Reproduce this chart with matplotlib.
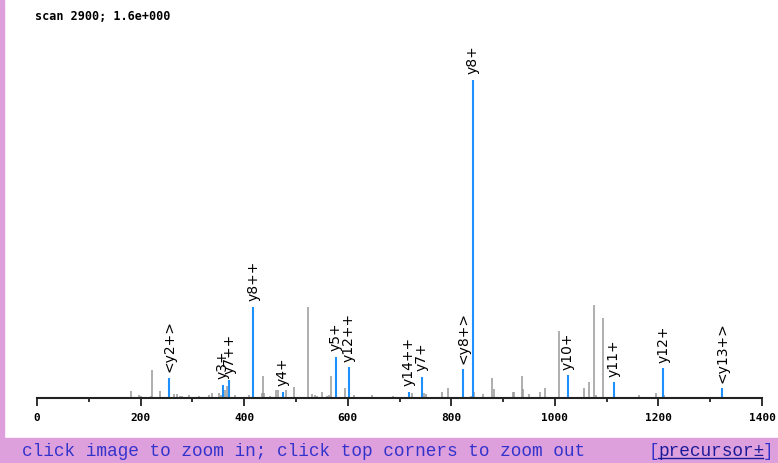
import matplotlib
matplotlib.use("Agg")
import matplotlib.pyplot as plt
from matplotlib.patches import Rectangle

# annotated (matched) peaks: m/z, relative intensity (%), label
ion_mz = [255, 359, 371, 418, 475, 577, 602, 718, 743, 823, 842, 1025, 1114, 1209, 1323]
ion_int = [6.3, 4.1, 5.7, 28.6, 1.9, 12.9, 9.7, 1.9, 6.6, 9.1, 100.0, 7.2, 5.0, 9.4, 3.1]
ion_lab = ["<y2+>", "y3+", "y7++", "y8++", "y4+", "y5+", "y12++", "y14++", "y7+",
           "<y8+>", "y8+", "y10+", "y11+", "y12+", "<y13+>"]

# unmatched peaks
other_mz = [181, 196, 201, 220, 222, 237, 264, 270, 276, 280, 294, 312, 333, 338, 351,
            355, 363, 367, 382, 410, 434, 436, 439, 450, 461, 466, 480, 496, 523, 531,
            536, 540, 550, 560, 564, 567, 595, 612, 647, 687, 724, 747, 752, 782, 793,
            839, 844, 861, 879, 882, 919, 921, 936, 938, 950, 971, 981, 1008, 1056,
            1066, 1075, 1079, 1093, 1162, 1195, 1211]
other_int = [2.2, 0.9, 0.6, 0.6, 8.8, 2.2, 1.3, 1.3, 0.6, 0.6, 0.9, 0.6, 0.9, 1.6, 1.6,
             0.9, 2.5, 3.8, 0.9, 0.9, 1.6, 6.9, 1.6, 0.6, 2.5, 2.5, 2.5, 3.5, 28.6, 1.3,
             0.9, 0.6, 1.9, 0.6, 0.9, 6.9, 3.1, 0.9, 0.9, 0.6, 1.6, 1.6, 1.3, 1.9, 3.1,
             0.6, 1.9, 1.3, 6.3, 2.8, 1.9, 1.9, 6.9, 2.8, 1.3, 1.9, 3.1, 21.1, 3.1,
             5.0, 29.2, 0.9, 25.2, 0.9, 1.6, 0.9]

title = "scan 2900; 1.6e+000"

W, H = 778, 463
fig = plt.figure(figsize=(W / 100, H / 100), dpi=100)
fig.patch.set_facecolor("white")

# purple frame: left strip and bottom band
fig.patches.append(Rectangle((0, 0), 4 / W, 1, transform=fig.transFigure,
                             color="#dda0dd", zorder=0))
fig.patches.append(Rectangle((0, 0), 1, 25 / H, transform=fig.transFigure,
                             color="#dda0dd", zorder=0))

x0, x1 = 37, 762
ybase, ytop = 398, 40
ax = fig.add_axes([x0 / W, (H - ybase) / H, (x1 - x0) / W, (ybase - ytop) / H])
ax.set_facecolor("none")

ax.vlines(other_mz, 0, other_int, color="#999999", linewidth=1.1)
ax.vlines(ion_mz, 0, ion_int, color="#1e90ff", linewidth=1.5)

for m, v, lab in zip(ion_mz, ion_int, ion_lab):
    ax.annotate(lab, (m, v), xytext=(0, 4), textcoords="offset points",
                rotation=90, ha="center", va="bottom", fontsize=10,
                family="DejaVu Sans", color="black")

ax.set_xlim(0, 1400)
ax.set_ylim(0, 100 * (ybase - ytop) / 318)
ax.set_xticks(range(0, 1401, 200))
ax.set_xticks(range(100, 1400, 200), minor=True)
ax.set_yticks([])
for s in ["left", "right", "top"]:
    ax.spines[s].set_visible(False)
ax.spines["bottom"].set_linewidth(1.5)
ax.spines["bottom"].set_color("#222222")
ax.tick_params(axis="x", which="major", direction="out", length=6, width=1.3,
               color="#222222", pad=5)
ax.tick_params(axis="x", which="minor", direction="out", length=3, width=1.3,
               color="#222222")
for t in ax.get_xticklabels():
    t.set_family("DejaVu Sans Mono")
    t.set_fontweight("bold")
    t.set_fontsize(8)

fig.text(35 / W, 1 - 17 / H, title, family="DejaVu Sans Mono", fontweight="bold",
         fontsize=8.5, va="center", ha="left")

fig.text(22 / W, 1 - 451 / H, "click image to zoom in; click top corners to zoom out",
         family="Liberation Mono", fontsize=12.8, color="#3333cc", va="center", ha="left")
fig.text(648 / W, 1 - 451 / H, "[", family="Liberation Mono", fontsize=12.8,
         color="#3333cc", va="center", ha="left")
fig.text(658 / W, 1 - 451 / H, "precursor\u00b1", family="Liberation Mono", fontsize=12.8,
         color="#1a1a99", va="center", ha="left")
fig.add_artist(plt.Line2D([658 / W, 763 / W], [1 - 458 / H, 1 - 458 / H],
                          color="#1a1a99", linewidth=1))
fig.text(763 / W, 1 - 451 / H, "]", family="Liberation Mono", fontsize=12.8,
         color="#3333cc", va="center", ha="left")

fig.savefig("out.png", dpi=100)
